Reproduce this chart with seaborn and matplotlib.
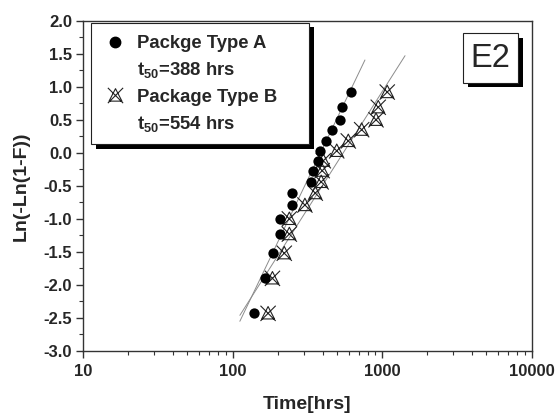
import numpy as np
import pandas as pd
import matplotlib
matplotlib.use("Agg")
import matplotlib.pyplot as plt
import seaborn as sns
from matplotlib.path import Path
from matplotlib.lines import Line2D
from matplotlib.patches import Rectangle
from matplotlib.ticker import MultipleLocator, LogLocator, NullFormatter

# Weibull plotting positions, ln(-ln(1-F)), shared by both package types
ln_ln_f = [-2.43, -1.90, -1.52, -1.23, -1.00, -0.79, -0.61, -0.44,
           -0.27, -0.12, 0.03, 0.18, 0.35, 0.50, 0.69, 0.92]

# Failure times [hrs]
hours_a = [139, 164, 187, 207, 207, 249, 249, 335,
           344, 372, 385, 422, 461, 524, 540, 621]
hours_b = [173, 185, 222, 240, 240, 305, 358, 392,
           398, 405, 498, 595, 731, 912, 944, 1084]

# Fitted Weibull lines (end points)
fit_a_hours = [112, 769]
fit_a_y = [-2.55, 1.405]
fit_b_hours = [112, 1426]
fit_b_y = [-2.46, 1.47]

series_labels = ["Packge Type A", "Package Type B"]
t50_labels = ["388", "554"]
panel_tag = "E2"

x_ticks = [10, 100, 1000, 10000]
x_tick_labels = ["10", "100", "1000", "10000"]
y_ticks = [-3.0, -2.5, -2.0, -1.5, -1.0, -0.5, 0.0, 0.5, 1.0, 1.5, 2.0]

df_a = pd.DataFrame({"hours": hours_a, "lnln": ln_ln_f})
df_b = pd.DataFrame({"hours": hours_b, "lnln": ln_ln_f})
fit_a = pd.DataFrame({"hours": fit_a_hours, "lnln": fit_a_y})
fit_b = pd.DataFrame({"hours": fit_b_hours, "lnln": fit_b_y})

sns.set_style("ticks")
plt.rcParams["font.family"] = ["Liberation Sans", "DejaVu Sans"]
plt.rcParams["font.weight"] = "bold"
plt.rcParams["mathtext.fontset"] = "custom"
plt.rcParams["mathtext.rm"] = "Liberation Sans:bold"
plt.rcParams["mathtext.it"] = "Liberation Sans:bold"
plt.rcParams["mathtext.bf"] = "Liberation Sans:bold"

W, H = 560, 416
fig = plt.figure(figsize=(W / 100, H / 100), dpi=100)
fig.patch.set_facecolor("white")

L, R, T, B = 83, 531.5, 20.7, 351
ax = fig.add_axes([L / W, 1 - B / H, (R - L) / W, (B - T) / H])
ax.set_xscale("log")

# crossed triangle marker
cross_tri = Path(
    [(0, 0.85), (-0.8, -0.7), (0.8, -0.7), (0, 0.85),
     (-0.95, 0.95), (0.95, -0.95), (0.95, 0.95), (-0.95, -0.95)],
    [Path.MOVETO, Path.LINETO, Path.LINETO, Path.CLOSEPOLY,
     Path.MOVETO, Path.LINETO, Path.MOVETO, Path.LINETO],
)

line_col = "#8c8c8c"
sns.lineplot(data=fit_a, x="hours", y="lnln", ax=ax, color=line_col,
             lw=0.7, estimator=None, sort=False, zorder=2)
sns.lineplot(data=fit_b, x="hours", y="lnln", ax=ax, color=line_col,
             lw=0.7, estimator=None, sort=False, zorder=2)

sns.scatterplot(data=df_b, x="hours", y="lnln", ax=ax, marker=cross_tri,
                s=120, facecolor="none", edgecolor="#222222",
                linewidth=0.8, zorder=3)
sns.scatterplot(data=df_a, x="hours", y="lnln", ax=ax, marker="o",
                s=55, color="black", edgecolor="black", linewidth=0,
                zorder=4)

ax.set_xlim(10, 10000)
ax.set_ylim(-3.0, 2.0)
ax.set_xticks(x_ticks, labels=x_tick_labels)
ax.xaxis.set_minor_locator(LogLocator(base=10, subs=np.arange(2, 10)))
ax.xaxis.set_minor_formatter(NullFormatter())
ax.set_yticks(y_ticks, labels=[f"{v:.1f}" for v in y_ticks])
ax.yaxis.set_minor_locator(MultipleLocator(0.25))

spine_col = "#333333"
for s in ax.spines.values():
    s.set_visible(True)
    s.set_color(spine_col)
    s.set_linewidth(1.0)
ax.tick_params(which="major", direction="out", length=5, width=1,
               color=spine_col, labelsize=12, top=False, right=False)
ax.tick_params(which="minor", direction="out", length=3, width=0.8,
               color=spine_col, top=False, right=False)
ax.tick_params(axis="x", which="major", pad=4)
ax.tick_params(axis="y", which="major", pad=3)
for lab in ax.get_xticklabels() + ax.get_yticklabels():
    lab.set_fontweight("bold")

ax.set_xlabel("Time[hrs]", fontsize=14, fontweight="bold")
ax.set_ylabel("Ln(-Ln(1-F))", fontsize=14, fontweight="bold")
ax.xaxis.set_label_coords(0.5, -0.135)
ax.yaxis.set_label_coords(-0.118, 0.5)


def fpx(x, y):
    return x / W, 1 - y / H


def box(x0, y0, x1, y1, shadow=(5, 4.5), z=6):
    sx, sy = shadow
    a = fpx(x0 + sx, y1 + sy)
    ax.add_patch(Rectangle(a, (x1 - x0) / W, (y1 - y0) / H,
                           transform=fig.transFigure, facecolor="black",
                           edgecolor="none", clip_on=False, zorder=z))
    a = fpx(x0, y1)
    ax.add_patch(Rectangle(a, (x1 - x0) / W, (y1 - y0) / H,
                           transform=fig.transFigure, facecolor="white",
                           edgecolor="#222222", lw=0.8, clip_on=False,
                           zorder=z + 0.5))


# legend box
box(91, 22.7, 309, 144)
handles = [
    Line2D([], [], ls="", marker="o", color="black", markersize=7.5),
    Line2D([], [], ls="", marker=None),
    Line2D([], [], ls="", marker=cross_tri, markersize=11,
           markerfacecolor="none", markeredgecolor="#222222",
           markeredgewidth=0.8),
    Line2D([], [], ls="", marker=None),
]
labels = [
    series_labels[0],
    r"$\mathregular{t_{50}}$=" + t50_labels[0] + " hrs",
    series_labels[1],
    r"$\mathregular{t_{50}}$=" + t50_labels[1] + " hrs",
]
leg = ax.legend(handles, labels, loc="upper left",
                bbox_to_anchor=fpx(104, 35), bbox_transform=fig.transFigure,
                frameon=False, fontsize=13.3, handlelength=1.2,
                handletextpad=0.58, labelspacing=0.45, borderpad=0,
                borderaxespad=0)
leg.set_zorder(8)
for t in leg.get_texts():
    t.set_fontweight("bold")

# panel tag
box(463.3, 33.3, 518.3, 82.7)
ax.text(*fpx(490.8, 58.5), panel_tag, transform=fig.transFigure,
        ha="center", va="center", fontsize=23.5, fontweight="normal",
        zorder=9)

fig.savefig("out.png", dpi=100, facecolor="white")
